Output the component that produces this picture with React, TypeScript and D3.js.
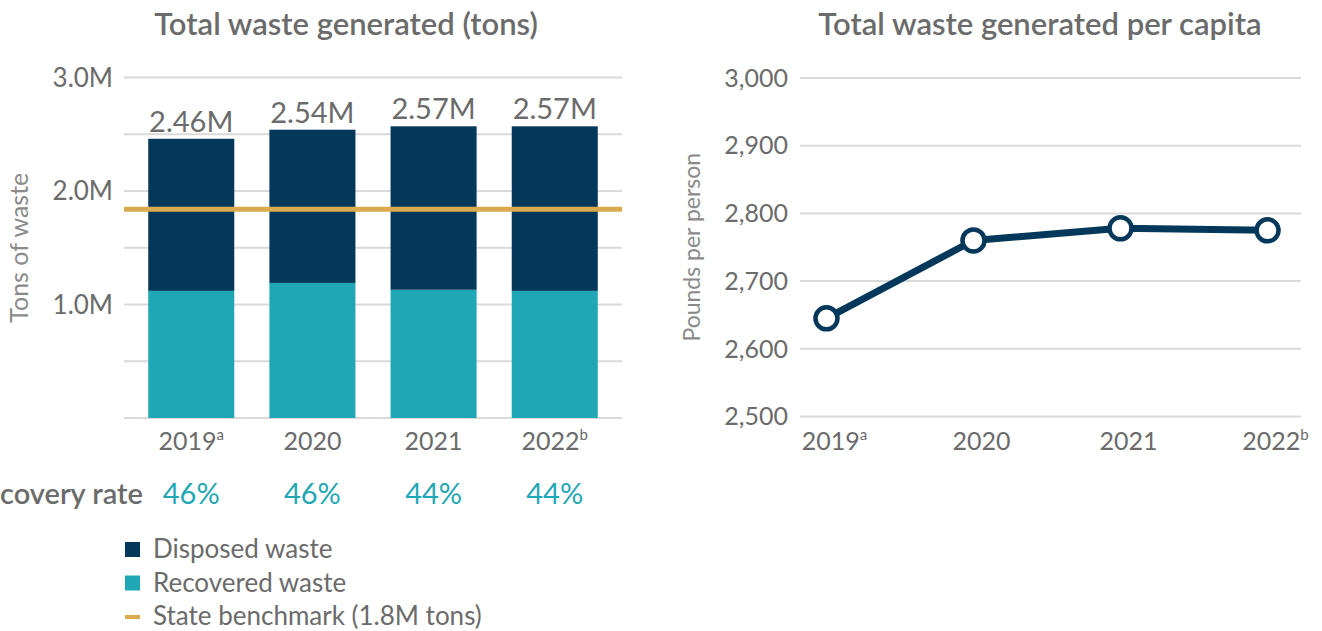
import React from 'react';
import * as d3 from 'd3';

const years = ['2019', '2020', '2021', '2022'];
const yearNotes = ['a', '', '', 'b'];
// millions of tons
const totalTons = [2.46, 2.54, 2.57, 2.57];
const recoveredTons = [1.12, 1.19, 1.13, 1.12];
const recoveryRates = ['46%', '46%', '44%', '44%'];
const benchmarkTons = 1.84;
const leftTicks = [0, 0.5, 1, 1.5, 2, 2.5, 3];
const leftTickLabels = ['', '', '1.0M', '', '2.0M', '', '3.0M'];
// pounds per person
const perCapita = [2645, 2760, 2778, 2775];
const rightTicks = [2500, 2600, 2700, 2800, 2900, 3000];

const legendItems = [
  { label: 'Disposed waste', kind: 'rect', color: '#03385a' },
  { label: 'Recovered waste', kind: 'rect', color: '#1fa7b5' },
  { label: 'State benchmark (1.8M tons)', kind: 'line', color: '#dcaa4e' },
];

const FONT = "Lato, 'Open Sans', sans-serif";
const GREY = '#6b6b6b';
const GRID = '#d9d9d9';
const NAVY = '#03385a';
const TEAL = '#1fa7b5';
const GOLD = '#dcaa4e';

const YearLabel = ({ x, y, year, note }) => (
  <text x={x} y={y} textAnchor="middle" fontSize={25} fill={GREY} fontFamily={FONT}>
    {year}
    {note && (
      <tspan fontSize={15} dy={-10}>
        {note}
      </tspan>
    )}
  </text>
);

const App = () => {
  // left chart: stacked bars
  const lx = d3.scaleBand().domain(years).range([124, 622]).paddingInner(0.29).paddingOuter(0.2);
  const ly = d3.scaleLinear().domain([0, 3]).range([418, 77.5]);

  // right chart: line
  const rx = d3.scalePoint().domain(years).range([800, 1294]).padding(0.18);
  const ry = d3.scaleLinear().domain([2500, 3000]).range([416.5, 78]);
  const line = d3
    .line()
    .x((d, i) => rx(years[i]))
    .y((d) => ry(d));

  return (
    <svg
      width={1322}
      height={631}
      style={{ position: 'absolute', left: 0, top: 0, background: 'white' }}
      fontFamily={FONT}
    >
      {/* ---- left chart ---- */}
      <text x={346} y={35} textAnchor="middle" fontSize={31} fontWeight={600} fill={GREY}>
        Total waste generated (tons)
      </text>

      {leftTicks.map((t, i) => (
        <g key={t}>
          <line x1={124} x2={622} y1={ly(t)} y2={ly(t)} stroke={GRID} strokeWidth={2} />
          {leftTickLabels[i] && (
            <text x={113} y={ly(t)} dy="0.35em" textAnchor="end" fontSize={26} fill={GREY}>
              {leftTickLabels[i]}
            </text>
          )}
        </g>
      ))}

      <text
        transform={`translate(28,${ly(1.5)}) rotate(-90)`}
        textAnchor="middle"
        fontSize={25}
        fill="#8a8a8a"
      >
        Tons of waste
      </text>

      {years.map((yr, i) => (
        <g key={yr}>
          <rect
            x={lx(yr)}
            width={lx.bandwidth()}
            y={ly(recoveredTons[i])}
            height={ly(0) - ly(recoveredTons[i])}
            fill={TEAL}
          />
          <rect
            x={lx(yr)}
            width={lx.bandwidth()}
            y={ly(totalTons[i])}
            height={ly(recoveredTons[i]) - ly(totalTons[i])}
            fill={NAVY}
          />
          <text
            x={lx(yr) + lx.bandwidth() / 2}
            y={ly(totalTons[i]) - 7}
            textAnchor="middle"
            fontSize={29}
            fill={GREY}
          >
            {totalTons[i].toFixed(2)}M
          </text>
          <YearLabel x={lx(yr) + lx.bandwidth() / 2} y={450} year={yr} note={yearNotes[i]} />
          <text x={lx(yr) + lx.bandwidth() / 2} y={504} textAnchor="middle" fontSize={29} fill={TEAL}>
            {recoveryRates[i]}
          </text>
        </g>
      ))}

      <line x1={124} x2={622} y1={ly(benchmarkTons)} y2={ly(benchmarkTons)} stroke={GOLD} strokeWidth={5} />

      {/* row label is clipped by the left edge, as in the source */}
      <text x={143} y={504} textAnchor="end" fontSize={29} fontWeight={600} fill={GREY}>
        Recovery rate
      </text>

      {legendItems.map((item, i) => (
        <g key={item.label} transform={`translate(125,${549 + i * 33.5})`}>
          {item.kind === 'rect' ? (
            <rect x={0} y={-7} width={15} height={15} fill={item.color} />
          ) : (
            <rect x={0} y={-1} width={15} height={4} fill={item.color} />
          )}
          <text x={28} y={0} dy="0.35em" fontSize={26} fill={GREY}>
            {item.label}
          </text>
        </g>
      ))}

      {/* ---- right chart ---- */}
      <text x={1040} y={35} textAnchor="middle" fontSize={31} fontWeight={600} fill={GREY}>
        Total waste generated per capita
      </text>

      {rightTicks.map((t) => (
        <g key={t}>
          <line x1={800} x2={1301} y1={ry(t)} y2={ry(t)} stroke={GRID} strokeWidth={2} />
          <text x={788} y={ry(t)} dy="0.35em" textAnchor="end" fontSize={25} fill={GREY}>
            {d3.format(',')(t)}
          </text>
        </g>
      ))}

      <text
        transform={`translate(700,${ry(2750)}) rotate(-90)`}
        textAnchor="middle"
        fontSize={23}
        fill="#8a8a8a"
      >
        Pounds per person
      </text>

      {years.map((yr, i) => (
        <YearLabel key={yr} x={rx(yr) + 8} y={450} year={yr} note={yearNotes[i]} />
      ))}

      <path d={line(perCapita)} fill="none" stroke={NAVY} strokeWidth={7} strokeLinejoin="round" />
      {perCapita.map((v, i) => (
        <circle key={years[i]} cx={rx(years[i])} cy={ry(v)} r={11} fill="white" stroke={NAVY} strokeWidth={4.5} />
      ))}
    </svg>
  );
};

export default App;
